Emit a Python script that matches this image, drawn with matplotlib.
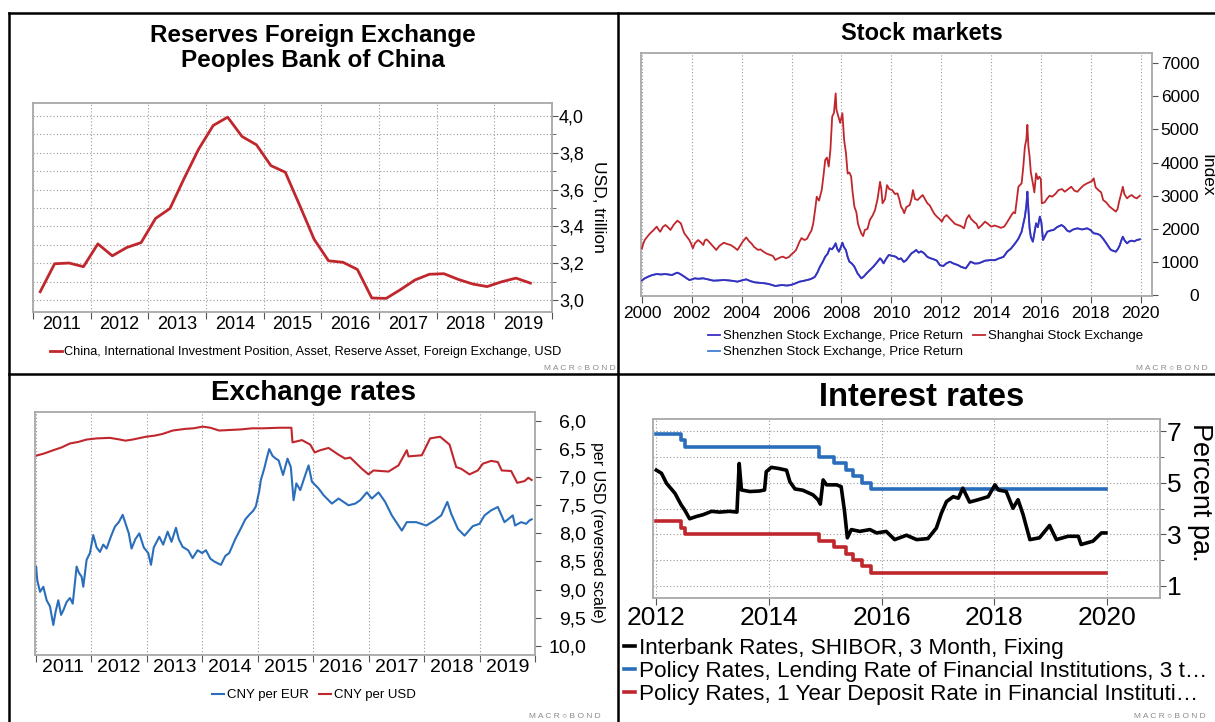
#Four Macrobond style panels on China: reserves, stock markets, exchange rates, interest rates
import matplotlib
matplotlib.use('Agg')
from matplotlib import pyplot as plt
from matplotlib.ticker import MultipleLocator, FuncFormatter
from matplotlib.lines import Line2D
import numpy as np
import pandas as pd

plt.rcParams['font.family'] = ['Liberation Sans', 'DejaVu Sans']

RED = '#c0272d'
BLUE = '#2a6ebb'
PURPLE = '#3a2fc0'
GRID = '#9a9a9a'
FRAME = '#a8a8a8'

#---- reserves, quarterly, USD trillion
reserve_quarters = pd.period_range('2011Q1', '2019Q3', freq='Q')
reserves = [3.045, 3.197, 3.201, 3.181, 3.305, 3.240, 3.285, 3.312,
            3.443, 3.497, 3.663, 3.821, 3.948, 3.993, 3.888, 3.843,
            3.730, 3.694, 3.514, 3.330, 3.213, 3.205, 3.166, 3.011,
            3.009, 3.057, 3.109, 3.140, 3.143, 3.112, 3.087, 3.073,
            3.099, 3.119, 3.092]

#---- stock markets (decimal year, index level)
sh_years = [2000.00, 2000.05, 2000.11, 2000.20, 2000.32, 2000.45, 2000.59, 2000.66, 2000.73, 2000.84,
            2000.94, 2001.05, 2001.14, 2001.28, 2001.42, 2001.50, 2001.56, 2001.63, 2001.70, 2001.80,
            2001.90, 2001.97, 2002.04, 2002.12, 2002.25, 2002.35, 2002.46, 2002.52, 2002.59, 2002.70,
            2002.80, 2002.90, 2002.98, 2003.10, 2003.28, 2003.42, 2003.56, 2003.70, 2003.83, 2003.95,
            2004.04, 2004.18, 2004.30, 2004.39, 2004.50, 2004.66, 2004.75, 2004.87, 2005.00, 2005.14,
            2005.25, 2005.35, 2005.45, 2005.56, 2005.66, 2005.77, 2005.90, 2005.97, 2006.08, 2006.18,
            2006.32, 2006.40, 2006.52, 2006.62, 2006.73, 2006.80, 2006.87, 2006.95, 2007.01, 2007.10,
            2007.21, 2007.28, 2007.35, 2007.42, 2007.49, 2007.56, 2007.63, 2007.70, 2007.77, 2007.80,
            2007.86, 2007.95, 2008.04, 2008.08, 2008.11, 2008.18, 2008.25, 2008.32, 2008.39, 2008.45,
            2008.52, 2008.60, 2008.66, 2008.73, 2008.80, 2008.87, 2008.94, 2009.05, 2009.14, 2009.25,
            2009.35, 2009.45, 2009.55, 2009.60, 2009.65, 2009.75, 2009.83, 2009.92, 2010.04, 2010.15,
            2010.25, 2010.32, 2010.39, 2010.45, 2010.52, 2010.60, 2010.74, 2010.81, 2010.87, 2010.95,
            2011.06, 2011.16, 2011.26, 2011.35, 2011.45, 2011.55, 2011.64, 2011.73, 2011.83, 2011.93,
            2012.03, 2012.12, 2012.22, 2012.30, 2012.41, 2012.55, 2012.67, 2012.80, 2012.92, 2013.02,
            2013.12, 2013.20, 2013.31, 2013.42, 2013.50, 2013.62, 2013.76, 2013.88, 2014.01, 2014.15,
            2014.27, 2014.40, 2014.53, 2014.65, 2014.78, 2014.90, 2014.97, 2015.10, 2015.23, 2015.30,
            2015.36, 2015.42, 2015.46, 2015.50, 2015.55, 2015.60, 2015.68, 2015.74, 2015.81, 2015.88,
            2015.94, 2016.00, 2016.04, 2016.15, 2016.26, 2016.35, 2016.45, 2016.58, 2016.71, 2016.85,
            2016.96, 2017.10, 2017.22, 2017.35, 2017.47, 2017.60, 2017.73, 2017.85, 2017.99, 2018.06,
            2018.12, 2018.20, 2018.31, 2018.42, 2018.50, 2018.62, 2018.76, 2018.88, 2019.01, 2019.08,
            2019.14, 2019.22, 2019.29, 2019.35, 2019.46, 2019.55, 2019.65, 2019.75, 2019.85, 2019.97]
shanghai = [1410, 1550, 1660, 1750, 1860, 1950, 2065, 1980, 1910, 2060,
            2115, 2040, 1965, 2130, 2245, 2200, 2165, 2000, 1860, 1760,
            1660, 1550, 1410, 1560, 1660, 1600, 1510, 1650, 1680, 1600,
            1510, 1430, 1360, 1480, 1580, 1540, 1510, 1440, 1360, 1500,
            1610, 1740, 1620, 1560, 1450, 1360, 1380, 1310, 1250, 1210,
            1180, 1060, 1100, 1140, 1160, 1110, 1150, 1210, 1280, 1360,
            1610, 1720, 1660, 1700, 1860, 1950, 2165, 2600, 2970, 2850,
            3170, 3600, 4080, 4150, 3880, 4400, 5390, 5500, 6090, 5600,
            5440, 5200, 5490, 5000, 4680, 4300, 3670, 3700, 3580, 3100,
            2670, 2500, 2165, 2000, 1860, 1780, 1965, 2000, 2265, 2400,
            2570, 2900, 3420, 3200, 2770, 2900, 3320, 3200, 3170, 3050,
            3070, 2900, 2670, 2600, 2470, 2650, 2720, 2900, 3170, 2900,
            2870, 2950, 3020, 2900, 2770, 2700, 2570, 2450, 2365, 2300,
            2215, 2350, 2415, 2350, 2265, 2150, 2115, 2080, 2015, 2300,
            2415, 2300, 2215, 2150, 2015, 2100, 2215, 2150, 2065, 2100,
            2065, 2030, 2065, 2200, 2365, 2500, 2470, 3270, 3375, 3900,
            4480, 4700, 5140, 4500, 4180, 3700, 3375, 3100, 3675, 3500,
            3575, 3500, 2770, 2800, 2920, 3000, 2970, 3050, 3170, 3200,
            3120, 3200, 3270, 3150, 3120, 3230, 3320, 3370, 3420, 3450,
            3525, 3250, 3170, 3100, 2870, 2800, 2670, 2600, 2520, 2600,
            2820, 3050, 3270, 3050, 2920, 2980, 3020, 2950, 2920, 3000]

sz_years = [2000.00, 2000.10, 2000.25, 2000.40, 2000.59, 2000.75, 2000.94, 2001.05, 2001.21, 2001.30,
            2001.42, 2001.52, 2001.70, 2001.80, 2001.90, 2002.00, 2002.11, 2002.25, 2002.46, 2002.60,
            2002.87, 2003.05, 2003.28, 2003.50, 2003.70, 2003.83, 2004.00, 2004.18, 2004.35, 2004.52,
            2004.70, 2004.94, 2005.10, 2005.35, 2005.50, 2005.63, 2005.80, 2005.97, 2006.15, 2006.32,
            2006.50, 2006.73, 2006.85, 2006.94, 2007.05, 2007.14, 2007.25, 2007.35, 2007.45, 2007.53,
            2007.62, 2007.70, 2007.77, 2007.83, 2007.90, 2007.98, 2008.04, 2008.10, 2008.18, 2008.25,
            2008.32, 2008.42, 2008.52, 2008.65, 2008.80, 2008.90, 2009.01, 2009.15, 2009.28, 2009.42,
            2009.55, 2009.62, 2009.69, 2009.80, 2009.90, 2010.05, 2010.18, 2010.30, 2010.39, 2010.50,
            2010.60, 2010.81, 2010.90, 2011.00, 2011.10, 2011.20, 2011.32, 2011.45, 2011.58, 2011.70,
            2011.83, 2011.95, 2012.09, 2012.20, 2012.35, 2012.50, 2012.67, 2012.80, 2012.99, 2013.08,
            2013.18, 2013.35, 2013.50, 2013.65, 2013.76, 2013.90, 2014.01, 2014.15, 2014.33, 2014.50,
            2014.65, 2014.80, 2014.97, 2015.10, 2015.23, 2015.30, 2015.36, 2015.42, 2015.46, 2015.50,
            2015.55, 2015.60, 2015.68, 2015.75, 2015.81, 2015.88, 2015.96, 2016.02, 2016.09, 2016.18,
            2016.26, 2016.40, 2016.51, 2016.65, 2016.83, 2016.95, 2017.05, 2017.15, 2017.30, 2017.47,
            2017.65, 2017.86, 2018.00, 2018.12, 2018.25, 2018.37, 2018.50, 2018.63, 2018.75, 2018.82,
            2018.92, 2019.01, 2019.10, 2019.17, 2019.23, 2019.29, 2019.36, 2019.46, 2019.55, 2019.65,
            2019.75, 2019.85, 2019.97]
shenzhen = [440, 500, 554, 600, 634, 620, 634, 620, 604, 640,
            675, 640, 554, 500, 453, 470, 504, 490, 504, 480,
            433, 440, 453, 440, 420, 403, 440, 473, 420, 383,
            370, 352, 330, 272, 290, 302, 285, 302, 350, 403,
            430, 473, 510, 554, 700, 856, 1000, 1158, 1250, 1410,
            1380, 1460, 1561, 1400, 1309, 1450, 1581, 1450, 1360, 1150,
            1007, 950, 856, 650, 504, 560, 655, 760, 856, 980,
            1108, 1050, 957, 1100, 1208, 1180, 1158, 1080, 1108, 1000,
            1050, 1259, 1300, 1360, 1280, 1320, 1259, 1150, 1108, 1080,
            1037, 900, 876, 950, 1007, 950, 906, 850, 806, 900,
            1007, 950, 957, 1000, 1037, 1050, 1057, 1050, 1108, 1150,
            1309, 1400, 1561, 1700, 1913, 2150, 2367, 2700, 3122, 2600,
            2014, 1750, 1611, 1900, 2165, 2050, 2367, 2200, 1662, 1800,
            1913, 1950, 1964, 2050, 2115, 2050, 1950, 1913, 1980, 2014,
            1980, 2014, 1960, 1863, 1850, 1813, 1700, 1561, 1420, 1360,
            1330, 1309, 1400, 1510, 1650, 1762, 1650, 1561, 1620, 1641,
            1620, 1660, 1682]

#---- exchange rates (decimal year, CNY per unit)
usd_years = [2011.00, 2011.15, 2011.32, 2011.47, 2011.62, 2011.78, 2011.92, 2012.10, 2012.34, 2012.52,
             2012.62, 2012.75, 2012.99, 2013.15, 2013.29, 2013.47, 2013.70, 2013.85, 2014.01, 2014.15,
             2014.31, 2014.50, 2014.70, 2014.90, 2015.10, 2015.40, 2015.61, 2015.63, 2015.80, 2015.95,
             2016.03, 2016.13, 2016.28, 2016.46, 2016.58, 2016.67, 2016.88, 2017.00, 2017.09, 2017.36,
             2017.54, 2017.69, 2017.72, 2017.96, 2018.11, 2018.29, 2018.46, 2018.58, 2018.67, 2018.82,
             2018.97, 2019.06, 2019.21, 2019.33, 2019.40, 2019.57, 2019.68, 2019.81, 2019.88, 2019.94]
cny_usd = [6.62, 6.58, 6.52, 6.47, 6.40, 6.37, 6.33, 6.31, 6.30, 6.33,
           6.35, 6.33, 6.28, 6.26, 6.23, 6.17, 6.14, 6.13, 6.10, 6.12,
           6.17, 6.16, 6.15, 6.13, 6.13, 6.12, 6.12, 6.38, 6.34, 6.42,
           6.56, 6.52, 6.48, 6.60, 6.67, 6.65, 6.85, 6.95, 6.88, 6.90,
           6.79, 6.52, 6.63, 6.61, 6.31, 6.28, 6.42, 6.82, 6.85, 6.95,
           6.88, 6.76, 6.71, 6.73, 6.88, 6.89, 7.10, 7.07, 7.01, 7.05]

eur_years = [2011.00, 2011.01, 2011.03, 2011.08, 2011.14, 2011.20, 2011.26, 2011.32, 2011.36, 2011.41,
             2011.46, 2011.50, 2011.56, 2011.62, 2011.67, 2011.74, 2011.78, 2011.83, 2011.86, 2011.92,
             2011.98, 2012.04, 2012.10, 2012.16, 2012.22, 2012.28, 2012.36, 2012.43, 2012.50, 2012.57,
             2012.63, 2012.68, 2012.73, 2012.80, 2012.87, 2012.95, 2013.03, 2013.08, 2013.13, 2013.23,
             2013.30, 2013.38, 2013.45, 2013.53, 2013.58, 2013.65, 2013.75, 2013.83, 2013.92, 2014.00,
             2014.07, 2014.15, 2014.22, 2014.34, 2014.42, 2014.49, 2014.60, 2014.70, 2014.78, 2014.85,
             2014.92, 2014.97, 2015.03, 2015.06, 2015.12, 2015.17, 2015.21, 2015.27, 2015.33, 2015.38,
             2015.46, 2015.54, 2015.60, 2015.65, 2015.70, 2015.77, 2015.85, 2015.92, 2015.98, 2016.10,
             2016.19, 2016.34, 2016.46, 2016.64, 2016.76, 2016.85, 2016.97, 2017.06, 2017.18, 2017.30,
             2017.42, 2017.60, 2017.69, 2017.86, 2018.04, 2018.19, 2018.31, 2018.42, 2018.49, 2018.61,
             2018.73, 2018.88, 2019.00, 2019.09, 2019.21, 2019.33, 2019.45, 2019.60, 2019.64, 2019.75,
             2019.84, 2019.90, 2019.94]
cny_eur = [8.75, 8.59, 8.83, 9.04, 8.95, 9.19, 9.30, 9.63, 9.40, 9.19,
           9.45, 9.37, 9.22, 9.15, 9.25, 8.59, 8.70, 8.77, 8.95, 8.47,
           8.35, 8.03, 8.25, 8.33, 8.20, 8.27, 8.05, 7.88, 7.80, 7.67,
           7.85, 8.00, 8.27, 8.10, 8.00, 8.25, 8.35, 8.56, 8.25, 8.06,
           8.20, 7.97, 8.15, 7.90, 8.10, 8.24, 8.30, 8.44, 8.30, 8.35,
           8.30, 8.45, 8.50, 8.56, 8.40, 8.35, 8.10, 7.91, 7.75, 7.67,
           7.60, 7.52, 7.25, 7.05, 6.85, 6.65, 6.50, 6.62, 6.67, 6.70,
           6.96, 6.67, 6.82, 7.41, 7.11, 7.23, 6.99, 6.79, 7.08, 7.20,
           7.32, 7.47, 7.38, 7.50, 7.47, 7.41, 7.27, 7.38, 7.27, 7.44,
           7.68, 7.95, 7.80, 7.80, 7.86, 7.77, 7.68, 7.44, 7.65, 7.92,
           8.04, 7.87, 7.83, 7.68, 7.59, 7.53, 7.80, 7.68, 7.86, 7.80,
           7.83, 7.77, 7.75]

#---- interest rates (decimal year, percent)
shibor_years = [2012.00, 2012.09, 2012.18, 2012.33, 2012.44, 2012.50, 2012.59, 2012.71, 2012.83, 2012.98,
                2013.12, 2013.30, 2013.43, 2013.47, 2013.51, 2013.66, 2013.83, 2013.92, 2013.95, 2014.04,
                2014.16, 2014.31, 2014.37, 2014.46, 2014.60, 2014.78, 2014.87, 2014.91, 2014.96, 2015.02,
                2015.20, 2015.28, 2015.34, 2015.39, 2015.46, 2015.61, 2015.79, 2015.91, 2016.08, 2016.23,
                2016.44, 2016.62, 2016.82, 2016.97, 2017.06, 2017.15, 2017.27, 2017.36, 2017.44, 2017.56,
                2017.71, 2017.89, 2018.01, 2018.07, 2018.21, 2018.33, 2018.42, 2018.51, 2018.63, 2018.80,
                2018.98, 2019.10, 2019.31, 2019.49, 2019.54, 2019.75, 2019.90, 2019.98]
shibor = [5.49, 5.37, 4.98, 4.59, 4.14, 3.95, 3.60, 3.69, 3.76, 3.89,
          3.86, 3.89, 3.86, 5.75, 4.72, 4.66, 4.68, 4.72, 5.43, 5.60,
          5.56, 5.49, 5.04, 4.76, 4.71, 4.53, 4.34, 4.17, 5.11, 4.92,
          4.92, 4.85, 3.89, 2.86, 3.18, 3.11, 3.18, 3.05, 3.11, 2.79,
          2.96, 2.79, 2.83, 3.24, 3.82, 4.27, 4.46, 4.40, 4.79, 4.25,
          4.34, 4.46, 4.92, 4.72, 4.66, 4.01, 4.34, 3.76, 2.79, 2.86,
          3.34, 2.79, 2.92, 2.92, 2.60, 2.73, 3.05, 3.05]

policy_years = [2012.00, 2012.44, 2012.51, 2014.89, 2015.16, 2015.36, 2015.49, 2015.65, 2015.81, 2019.98]
lending_rate = [6.90, 6.65, 6.40, 6.00, 5.75, 5.50, 5.25, 5.00, 4.75, 4.75]
deposit_rate = [3.50, 3.25, 3.00, 2.75, 2.50, 2.25, 2.00, 1.75, 1.50, 1.50]

W, H = 1215, 722
fig = plt.figure(figsize=(W / 100, H / 100), dpi=100)


def box(x0, y0, x1, y1):
    #axes rectangle from pixel corners (top-left origin)
    return [x0 / W, 1 - y1 / H, (x1 - x0) / W, (y1 - y0) / H]


def comma(dec):
    return FuncFormatter(lambda v, p: ('{:.%df}' % dec).format(v).replace('.', ','))


def frame(ax, ysize, xsize, ypad=1):
    for s in ax.spines.values():
        s.set_color(FRAME)
        s.set_linewidth(1.3)
    ax.yaxis.tick_right()
    ax.tick_params(axis='y', which='both', direction='out', color='#555555', labelsize=ysize, pad=ypad)
    ax.tick_params(axis='y', which='major', length=4)
    ax.tick_params(axis='y', which='minor', length=3)
    ax.tick_params(axis='x', which='major', direction='out', color='#555555', length=5, labelsize=xsize)


def right_align(ax):
    #macrobond puts the right hand labels flush right
    for lab in ax.get_yticklabels():
        lab.set_horizontalalignment('right')


def year_labels(ax, first, last, size):
    #ticks at year boundaries, labels in the middle of the year
    ax.set_xticks(np.arange(first, last + 1))
    ax.set_xticklabels([''] * (last - first + 1))
    ax.set_xticks(np.arange(first, last) + 0.5, [str(y) for y in range(first, last)], minor=True)
    ax.tick_params(axis='x', which='minor', length=0, labelsize=size, pad=3)


dot = dict(color=GRID, linestyle=(0, (1, 2)), linewidth=0.8)

#---- panel 1: reserves
ax1 = fig.add_axes(box(33, 103, 552, 312))
q_x = [p.year + (p.quarter - 0.5) / 4 for p in reserve_quarters]
line_res, = ax1.plot(q_x, reserves, color=RED, lw=2.0,
                     label='China, International Investment Position, Asset, Reserve Asset, Foreign Exchange, USD')
ax1.set_xlim(2011.0, 2019.95)
ax1.set_ylim(2.935, 4.07)
frame(ax1, 13, 13)
year_labels(ax1, 2011, 2020, 13)
ax1.yaxis.set_major_locator(MultipleLocator(0.2))
ax1.yaxis.set_minor_locator(MultipleLocator(0.1))
ax1.yaxis.set_major_formatter(comma(1))
ax1.grid(axis='y', which='both', **dot)
ax1.grid(axis='x', which='major', **dot)
fig.text(313 / W, 1 - 48 / H, 'Reserves Foreign Exchange\nPeoples Bank of China', ha='center', va='center',
         fontsize=17.5, fontweight='bold', linespacing=1.1)
fig.text(598 / W, 1 - 207 / H, 'USD, trillion', rotation=270, ha='center', va='center', fontsize=12.5)
fig.legend(handles=[line_res], loc='center left', bbox_to_anchor=(50 / W, 1 - 352 / H), frameon=False,
           fontsize=9.2, handlelength=0.9, handletextpad=0.2, borderpad=0, borderaxespad=0)

#---- panel 2: stock markets
ax2 = fig.add_axes(box(641, 53, 1152, 296))
sz_under, = ax2.plot(sz_years, shenzhen, color='#3f7fd0', lw=1.3, zorder=2,
                     label='Shenzhen Stock Exchange, Price Return')
sz_line, = ax2.plot(sz_years, shenzhen, color=PURPLE, lw=1.3, zorder=3,
                    label='Shenzhen Stock Exchange, Price Return')
sh_line, = ax2.plot(sh_years, shanghai, color=RED, lw=1.3, zorder=3, label='Shanghai Stock Exchange')
ax2.set_xlim(1999.96, 2020.46)
ax2.set_ylim(-30, 7311)
frame(ax2, 12.5, 12.5, ypad=30)
ax2.set_xticks(np.arange(2000, 2021, 2))
ax2.yaxis.set_major_locator(MultipleLocator(1000))
right_align(ax2)
ax2.tick_params(axis='x', which='major', pad=2)
ax2.grid(axis='x', which='major', **dot)
fig.text(922 / W, 1 - 33 / H, 'Stock markets', ha='center', va='center', fontsize=17, fontweight='bold')
fig.text(1207 / W, 1 - 175 / H, 'Index', rotation=270, ha='center', va='center', fontsize=12.5)
fig.legend(handles=[sz_line, sz_under, sh_line], loc='upper left', bbox_to_anchor=(708 / W, 1 - 330 / H),
           ncol=2, frameon=False, fontsize=9.5, handlelength=0.9, handletextpad=0.2, borderpad=0,
           borderaxespad=0, columnspacing=0.8, labelspacing=0.3)

#---- panel 3: exchange rates
ax3 = fig.add_axes(box(35, 412, 535, 655))
eur_line, = ax3.plot(eur_years, cny_eur, color=BLUE, lw=1.5, label='CNY per EUR')
usd_line, = ax3.plot(usd_years, cny_usd, color=RED, lw=1.5, label='CNY per USD')
ax3.set_xlim(2010.99, 2019.966)
ax3.set_ylim(10.164, 5.84)
frame(ax3, 14, 14, ypad=33)
year_labels(ax3, 2011, 2020, 14)
ax3.yaxis.set_major_locator(MultipleLocator(0.5))
ax3.yaxis.set_major_formatter(comma(1))
right_align(ax3)
ax3.grid(axis='x', which='major', **dot)
fig.text(313 / W, 1 - 393 / H, 'Exchange rates', ha='center', va='center', fontsize=20, fontweight='bold')
fig.text(598 / W, 1 - 532 / H, 'per USD (reversed scale)', rotation=270, ha='center', va='center', fontsize=11.5)
fig.legend(handles=[eur_line, usd_line], loc='center', bbox_to_anchor=(314 / W, 1 - 695 / H), ncol=2,
           frameon=False, fontsize=9.5, handlelength=0.9, handletextpad=0.2, borderpad=0, borderaxespad=0,
           columnspacing=0.8)

#---- panel 4: interest rates
ax4 = fig.add_axes(box(653, 419, 1160, 598))
shibor_line, = ax4.plot(shibor_years, shibor, color='black', lw=2.6, zorder=4,
                        label='Interbank Rates, SHIBOR, 3 Month, Fixing')
lend_line, = ax4.plot(policy_years, lending_rate, color=BLUE, lw=2.6, drawstyle='steps-post',
                      label='Policy Rates, Lending Rate of Financial Institutions, 3 t\u2026')
dep_line, = ax4.plot(policy_years, deposit_rate, color=RED, lw=2.6, drawstyle='steps-post',
                     label='Policy Rates, 1 Year Deposit Rate in Financial Instituti\u2026')
ax4.set_xlim(2011.94, 2020.94)
ax4.set_ylim(0.52, 7.48)
frame(ax4, 19, 19)
ax4.set_xticks(np.arange(2012, 2021, 2))
ax4.tick_params(axis='x', which='major', pad=1)
ax4.yaxis.set_major_locator(MultipleLocator(2, offset=1))
ax4.yaxis.set_minor_locator(MultipleLocator(1))
ax4.grid(axis='y', which='both', **dot)
ax4.grid(axis='x', which='major', **dot)
fig.text(922 / W, 1 - 397 / H, 'Interest rates', ha='center', va='center', fontsize=23.5, fontweight='bold')
fig.text(1200 / W, 1 - 492 / H, 'Percent pa.', rotation=270, ha='center', va='center', fontsize=19.5)
fig.legend(handles=[shibor_line, lend_line, dep_line], loc='upper left', bbox_to_anchor=(624 / W, 1 - 638 / H),
           frameon=False, fontsize=16.2, handlelength=0.5, handletextpad=0.15, borderpad=0, borderaxespad=0,
           labelspacing=0.08)

#---- panel frames and logos
for (x0, y0, x1, y1) in [(9, 13, 1215, 13), (9, 374, 1215, 374), (9, 13, 9, 722), (618, 13, 618, 722)]:
    fig.add_artist(Line2D([x0 / W, x1 / W], [1 - y0 / H, 1 - y1 / H], transform=fig.transFigure,
                          color='black', lw=1.8))
for (lx, ly) in [(580, 368), (1172, 368), (565, 716), (1170, 716)]:
    fig.text(lx / W, 1 - ly / H, 'M A C R \u25cb B O N D', ha='center', va='center', fontsize=6, color='#8a8a8a')

fig.savefig('out.png', dpi=100)
